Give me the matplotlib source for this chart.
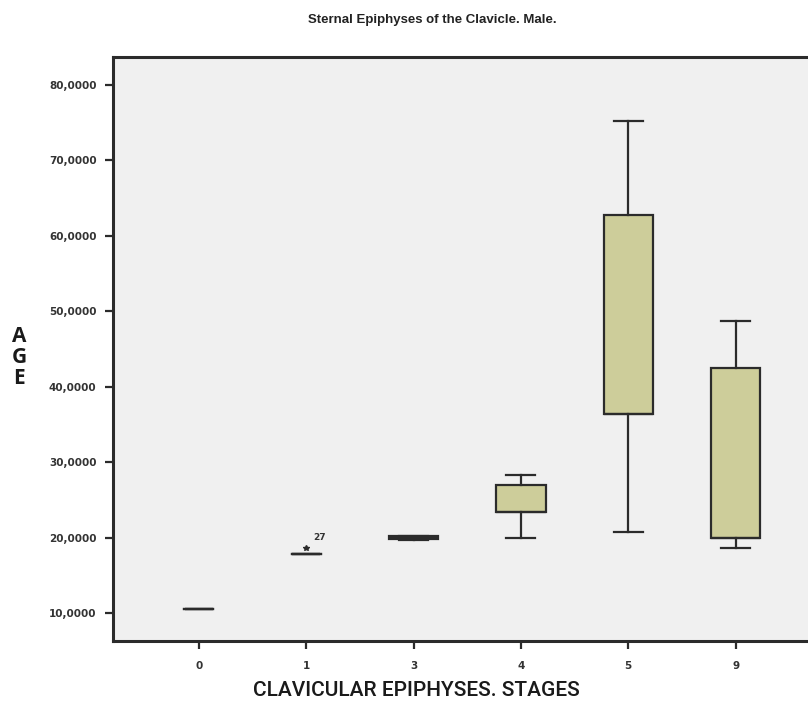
import matplotlib.pyplot as plt
from matplotlib.ticker import FuncFormatter

# values
stages = ["0", "1", "3", "4", "5", "9"]
whis_lo = [10.6, 17.8, 19.7, 20.0, 20.7, 18.7]
q1 = [10.6, 17.8, 19.8, 23.4, 36.4, 20.0]
med = [10.6, 17.8, 20.0, 23.4, 36.4, 20.0]
q3 = [10.6, 17.8, 20.2, 27.0, 62.7, 42.5]
whis_hi = [10.6, 17.8, 20.2, 28.3, 75.2, 48.7]
outliers = [[], [18.6], [], [], [], []]
outlier_ids = ["", "27", "", "", "", ""]
box_widths = [0.26, 0.26, 0.46, 0.46, 0.46, 0.46]

stats = []
for i, s in enumerate(stages):
    stats.append(dict(label=s, whislo=whis_lo[i], q1=q1[i], med=med[i],
                      q3=q3[i], whishi=whis_hi[i], fliers=outliers[i]))

edge = "#2b2b2b"
fig = plt.figure(figsize=(8.08, 7.10), dpi=100)
ax = fig.add_axes([0.14, 0.097, 0.87, 0.823])
ax.set_facecolor("#f0f0f0")

pos = list(range(len(stages)))
ax.bxp(stats, positions=pos, widths=box_widths, capwidths=0.27,
       patch_artist=True,
       boxprops=dict(facecolor="#cdcd9a", edgecolor=edge, linewidth=1.6),
       whiskerprops=dict(color=edge, linewidth=1.6),
       capprops=dict(color=edge, linewidth=1.6),
       medianprops=dict(color=edge, linewidth=1.6),
       flierprops=dict(marker="*", markersize=4, markerfacecolor=edge,
                       markeredgecolor=edge))

for i, ids in enumerate(outlier_ids):
    if ids:
        for v in outliers[i]:
            ax.annotate(ids, (pos[i], v), xytext=(5, 6), textcoords="offset points",
                        fontsize=6.5, color="#333333", fontweight="bold")

ax.set_xlim(-0.8, 5.75)
ax.set_ylim(6.3, 83.7)
ax.set_yticks([10, 20, 30, 40, 50, 60, 70, 80])
ax.yaxis.set_major_formatter(FuncFormatter(lambda v, p: f"{v:.4f}".replace(".", ",")))
ax.set_xticks(pos)
ax.set_xticklabels(stages)
ax.tick_params(axis="both", labelsize=7.5, labelcolor="#333333", color=edge,
               width=1.6, length=6, direction="out")
for lab in ax.get_xticklabels() + ax.get_yticklabels():
    lab.set_fontweight("bold")
ax.tick_params(axis="x", pad=8)
ax.tick_params(axis="y", pad=6)

for side in ["left", "bottom", "top"]:
    ax.spines[side].set_linewidth(2.2)
    ax.spines[side].set_color(edge)
ax.spines["right"].set_visible(False)

fig.text(0.535, 0.972, "Sternal Epiphyses of the Clavicle. Male.", ha="center", va="center",
         fontsize=9.5, fontweight="bold", family=["Liberation Sans", "DejaVu Sans"], color="#222222")
fig.text(0.515, 0.028, "CLAVICULAR EPIPHYSES. STAGES", ha="center", va="center",
         fontsize=15, fontweight="medium", family=["Roboto", "DejaVu Sans"], color="#1a1a1a",
         fontstretch="condensed")
fig.text(0.024, 0.497, "A\nG\nE", ha="center", va="center", fontsize=15,
         fontweight="bold", family=["Open Sans", "DejaVu Sans"], color="#1a1a1a",
         linespacing=1.0)

fig.savefig("out.png", dpi=100)
